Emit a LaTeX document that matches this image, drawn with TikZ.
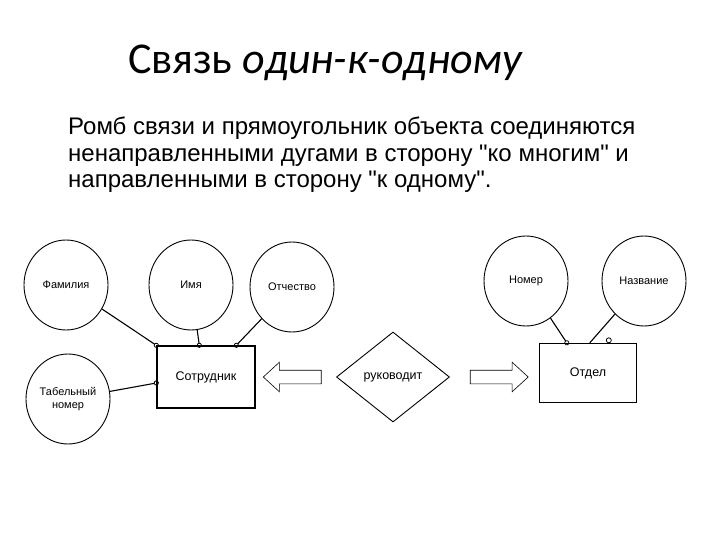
\documentclass[tikz,border=0pt]{standalone}
\usepackage{fontspec}
\setmainfont{Liberation Sans}[Ligatures=TeXOff]
\newfontfamily\titlefont{Carlito}
\usetikzlibrary{shapes.geometric,shapes.arrows,arrows.meta}

\tikzset{
	attr/.style={draw, ellipse, line width=0.9pt, minimum width=84pt, minimum height=90pt, inner sep=0pt, align=center, font=\fontsize{11}{13}\selectfont},
	entity/.style={draw, rectangle, line width=1.4pt, font=\fontsize{12.5}{14}\selectfont},
	relation/.style={draw, diamond, line width=0.9pt, minimum width=113pt, minimum height=90pt, inner sep=0pt, font=\fontsize{12.5}{14}\selectfont},
	link/.style={line width=1.1pt, shorten >=-2.5pt, -{Circle[open, length=5pt, width=5pt, line width=0.8pt]}},
	hollowarrow/.style={draw, single arrow, line width=0.6pt, minimum height=58pt, inner xsep=0pt, inner ysep=6.5pt, single arrow head extend=8pt, single arrow tip angle=85},
}

\begin{document}
\begin{tikzpicture}[x=1pt, y=-1pt]
	\useasboundingbox (0,0) rectangle (720,540);

	% heading and text
	\node[anchor=base west, inner sep=0pt, font=\titlefont\fontsize{44}{50}\selectfont] (head) at (128,74) {Связь \textit{один-к-одному}};
	\node[anchor=base west, inner sep=0pt, align=left, font=\fontsize{24}{26.5}\selectfont] (desc) at (68,188)
		{Ромб связи и прямоугольник объекта соединяются\\ненаправленными дугами в сторону "ко многим" и\\направленными в сторону "к одному".};

	% entities and relationship
	\node[entity, minimum width=98pt, minimum height=62pt] (emp) at (206,377) {Сотрудник};
	\node[entity, minimum width=97pt, minimum height=59pt] (dep) at (588,373) {Отдел};
	\node[relation] (rel) at (393,377) {руководит};

	% hollow arrows: to "many" and to "one"
	\node[hollowarrow, shape border rotate=180] (tomany) at (296,377) {};
	\node[hollowarrow] (toone) at (495.5,377) {};

	% attributes
	\foreach \name/\x/\y/\label in {fam/66/285/Фамилия, fname/191/285/Имя, patr/292/287/Отчество, tab/68/399/{Табельный\\номер}, num/526/281/Номер, title/644/281/Название} {
		\node[attr] (\name) at (\x,\y) {\label};
	}

	% attachment points on the rectangles
	\coordinate (emp-a) at (emp.north west);
	\coordinate (emp-b) at ([xshift=43pt]emp.north west);
	\coordinate (emp-c) at ([xshift=80pt]emp.north west);
	\coordinate (emp-d) at ([yshift=-6pt]emp.west);
	\coordinate (dep-a) at ([xshift=28pt]dep.north west);
	\coordinate (dep-b) at ([xshift=51pt]dep.north west);

	\draw[link] (fam) -- (emp-a);
	\draw[link] (fname) -- (emp-b);
	\draw[link] (patr) -- (emp-c);
	\draw[link] (tab) -- (emp-d);
	\draw[link] (num) -- (dep-a);
	\draw[line width=1.1pt] (title) -- (dep-b);
	\node[draw, circle, line width=0.8pt, fill=white, inner sep=0pt, minimum size=5pt] (stray) at ([xshift=70pt, yshift=2.5pt]dep.north west) {};
\end{tikzpicture}
\end{document}
